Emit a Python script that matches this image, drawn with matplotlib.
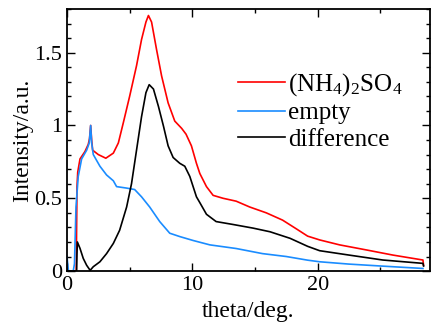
import matplotlib
matplotlib.use("Agg")
import matplotlib.pyplot as plt
from matplotlib.ticker import MultipleLocator

plt.rcParams['font.family'] = ['Liberation Serif', 'DejaVu Serif']
plt.rcParams['mathtext.fontset'] = 'custom'
plt.rcParams['mathtext.rm'] = 'Liberation Serif'
plt.rcParams['mathtext.it'] = 'Liberation Serif:italic'

# (NH4)2SO4 curve
x_salt = [0, 0.5, 0.74, 0.77, 0.8, 0.86, 1.04, 1.43, 1.7, 1.8, 1.89, 1.97, 2.05, 2.5, 3.1,
          3.7, 4.1, 4.5, 5.0, 5.55, 5.95, 6.3, 6.5, 6.75, 7.15, 7.55, 8.07, 8.6, 9.15,
          9.5, 9.93, 10.33, 10.6, 11.13, 11.66, 12.45, 13.5, 14.58, 15.9, 17.2, 18.3,
          19.2, 20.16, 21.75, 23.9, 26.0, 28.4, 28.45]
y_salt = [0, 0, 0, 0.3, 0.58, 0.68, 0.77, 0.82, 0.87, 0.91, 1.0, 0.9, 0.83, 0.80, 0.775,
          0.81, 0.88, 1.02, 1.20, 1.41, 1.59, 1.71, 1.755, 1.71, 1.52, 1.34, 1.155, 1.03, 0.98,
          0.94, 0.86, 0.74, 0.67, 0.58, 0.52, 0.50, 0.48, 0.44, 0.40, 0.35, 0.29,
          0.24, 0.214, 0.18, 0.145, 0.11, 0.076, 0.04]

# empty cell curve
x_empty = [0, 0.06, 0.12, 0.5, 0.6, 0.72, 0.9, 1.17, 1.57, 1.78, 1.89, 1.97, 2.1, 2.63,
           3.16, 3.7, 3.96, 4.75, 5.4, 5.95, 6.6, 7.4, 8.2, 9.0, 10.07, 11.4, 13.5,
           15.6, 17.5, 19.2, 20.16, 22.5, 25.2, 28.4]
y_empty = [0.1, 0.05, 0, 0, 0.05, 0.44, 0.65, 0.77, 0.83, 0.88, 1.0, 0.88, 0.80, 0.72,
           0.66, 0.62, 0.58, 0.57, 0.56, 0.51, 0.44, 0.34, 0.26, 0.237, 0.21, 0.18, 0.155,
           0.12, 0.10, 0.075, 0.064, 0.048, 0.034, 0.018]

# difference curve
x_diff = [0, 0.77, 0.8, 0.83, 1.04, 1.3, 1.57, 1.85, 2.1, 2.63, 3.16, 3.7, 4.2, 4.76,
          5.15, 5.55, 5.95, 6.3, 6.56, 6.9, 7.3, 7.7, 8.07, 8.47, 9.0, 9.4, 9.8, 10.33,
          10.6, 11.13, 11.9, 13.25, 14.85, 16.2, 17.8, 19.2, 20.16, 22.5, 25.2, 28.4, 28.45]
y_diff = [0, 0, 0.12, 0.2, 0.156, 0.087, 0.04, 0.005, 0.03, 0.064, 0.12, 0.19, 0.28, 0.44,
          0.60, 0.83, 1.06, 1.225, 1.28, 1.25, 1.13, 0.995, 0.86, 0.78, 0.74, 0.72, 0.65, 0.51,
          0.47, 0.39, 0.34, 0.32, 0.295, 0.27, 0.225, 0.17, 0.14, 0.11, 0.076, 0.053, 0.035]

fig = plt.figure(figsize=(4.32, 3.31), dpi=100)
ax = fig.add_axes([0.155, 0.181, 0.840, 0.792])

ax.plot(x_salt, y_salt, color='#ff0000', lw=1.2, label='(NH$_4$)$_2$SO$_4$')
ax.plot(x_empty, y_empty, color='#1a8cff', lw=1.2, label='empty')
ax.plot(x_diff, y_diff, color='black', lw=1.2, label='difference')

ax.set_xlim(0, 28.95)
ax.set_ylim(0, 1.8)
ax.xaxis.set_major_locator(MultipleLocator(10))
ax.xaxis.set_minor_locator(MultipleLocator(5))
ax.yaxis.set_minor_locator(MultipleLocator(0.1))
ax.set_yticks([0, 0.5, 1, 1.5])
ax.set_yticklabels(['0', '0.5', '1', '1.5'])
ax.tick_params(which='both', direction='in', top=True, right=True, labelsize=16)
ax.tick_params(which='major', length=6, width=1)
ax.tick_params(which='minor', length=3, width=1)
for s in ax.spines.values():
    s.set_linewidth(1.3)

ax.set_xlabel('theta/deg.', fontsize=17)
ax.set_ylabel('Intensity/a.u.', fontsize=17, labelpad=1)

ax.legend(loc='upper left', bbox_to_anchor=(0.436, 0.81), frameon=False, fontsize=18,
          handlelength=1.9, handletextpad=0.1, labelspacing=0.15, borderpad=0)

fig.savefig('out.png', dpi=100)
